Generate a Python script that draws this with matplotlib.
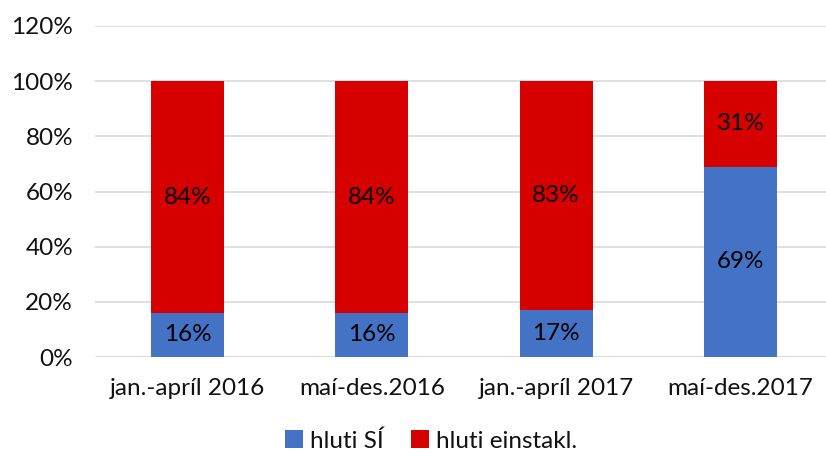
import matplotlib
matplotlib.use("Agg")
import matplotlib.pyplot as plt
import numpy as np

categories = ["jan.-apríl 2016", "maí-des.2016", "jan.-apríl 2017", "maí-des.2017"]
hluti_si = [16, 16, 17, 69]
hluti_einstakl = [84, 84, 83, 31]
series_names = ["hluti SÍ", "hluti einstakl."]
yticks = [0, 20, 40, 60, 80, 100, 120]

plt.rcParams['font.family'] = ['Lato', 'DejaVu Sans']
fs = 17.5

fig = plt.figure(figsize=(8.26, 4.54), dpi=100)
ax = fig.add_axes([95.3/826, 1 - 357/454, (832.7 - 95.3)/826, 331/454])

x = np.arange(len(categories))
w = 0.396
blue = "#4472C4"
red = "#D60000"
b1 = ax.bar(x, hluti_si, w, color=blue, label=series_names[0], zorder=2)
b2 = ax.bar(x, hluti_einstakl, w, bottom=hluti_si, color=red, label=series_names[1], zorder=2)

for i in range(len(categories)):
    ax.text(x[i], hluti_si[i] / 2, f"{hluti_si[i]}%", ha="center", va="center", fontsize=fs, color="black", zorder=3)
    ax.text(x[i], hluti_si[i] + hluti_einstakl[i] / 2, f"{hluti_einstakl[i]}%", ha="center", va="center", fontsize=fs, color="black", zorder=3)

ax.set_xlim(-0.5, 3.5)
ax.set_ylim(0, 120)
ax.set_yticks(yticks)
ax.set_yticklabels([f"{v}%" for v in yticks], fontsize=fs, color="#111111")
ax.set_xticks(x)
ax.set_xticklabels(categories, fontsize=fs, color="#111111")
ax.tick_params(axis='both', length=0)
ax.tick_params(axis='y', pad=16)
ax.tick_params(axis='x', pad=15)
ax.grid(axis='y', color="#D9D9D9", linewidth=1.2, zorder=0)
for s in ax.spines.values():
    s.set_visible(False)

leg = fig.legend(handles=[b1, b2], labels=series_names, loc="center", bbox_to_anchor=(431/826, 1 - 441/454),
                 ncol=2, frameon=False, fontsize=fs, handlelength=0.75, handleheight=0.75,
                 handletextpad=0.3, columnspacing=1.1, labelcolor="#111111")

fig.savefig("out.png", dpi=100)
